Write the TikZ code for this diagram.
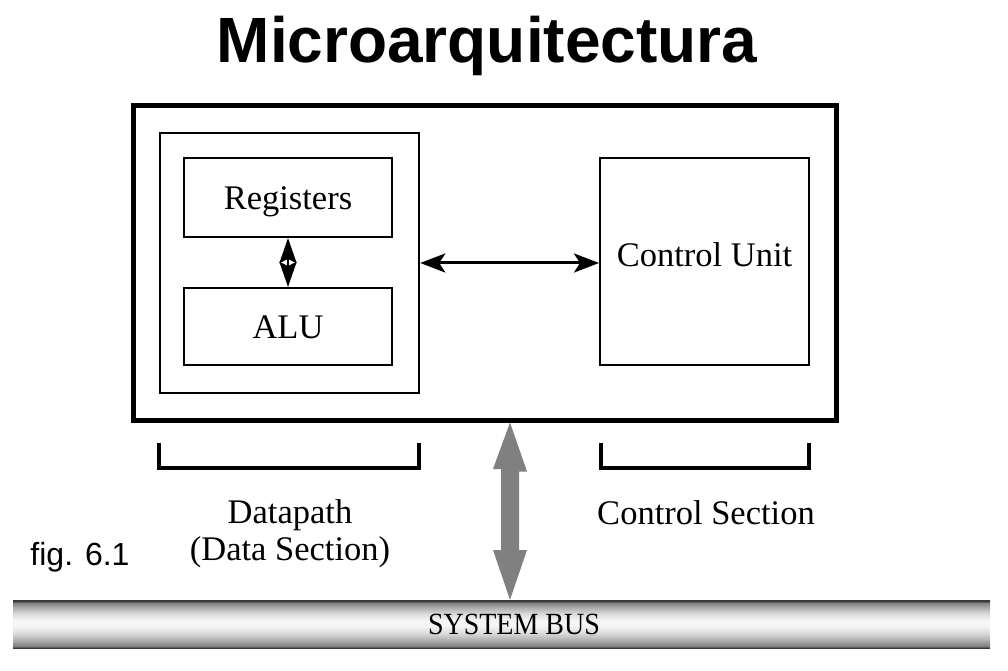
\documentclass[tikz,border=0pt]{standalone}
\usepackage{fontspec}
\setmainfont{Liberation Serif}
\newfontfamily\arialfont{Liberation Sans}
\usetikzlibrary{arrows.meta}
\definecolor{bA}{gray}{0.22}
\definecolor{bB}{gray}{0.50}
\definecolor{bC}{gray}{0.68}
\definecolor{bD}{gray}{0.85}
\definecolor{bE}{gray}{0.96}
\definecolor{arrgray}{gray}{0.50}
\pgfdeclareverticalshading{busshade}{100bp}{color(0bp)=(bA); color(25bp)=(bA); color(27bp)=(bB); color(33bp)=(bC); color(40bp)=(bD); color(48bp)=(bE); color(54bp)=(bE); color(61bp)=(bD); color(67bp)=(bC); color(72bp)=(bB); color(74bp)=(bA); color(100bp)=(bA)}
\tikzset{
  box/.style={draw, line width=2pt, inner sep=0pt},
  lbl/.style={font=\fontsize{34.5}{38}\selectfont},
  bracket/.style={line width=4pt},
  blackarrow/.style={line width=3pt, {Stealth[length=25pt,width=19pt,inset=6pt]}-{Stealth[length=25pt,width=19pt,inset=6pt]}},
}
\begin{document}
\begin{tikzpicture}[x=1pt,y=1pt]
\useasboundingbox (0,0) rectangle (1008,670);
% title
\node[anchor=base, font=\arialfont\bfseries\fontsize{64}{68}\selectfont] (title) at (487,607) {Microarquitectura};
% outer box
\node[box, line width=5pt, minimum width=703pt, minimum height=314pt] (outer) at (484.5,407) {};
% datapath box
\node[box, line width=2.5pt, minimum width=259pt, minimum height=260pt] (dp) at (289.5,407) {};
\node[box, minimum width=208pt, minimum height=79pt] (regs) at (288,472.5) {};
\node[box, minimum width=208pt, minimum height=77pt] (alu) at (288,343.5) {};
\node[box, minimum width=209pt, minimum height=207pt] (cu) at (704.5,408.5) {};
\node[lbl, anchor=base] (regst) at ([yshift=-12pt]regs.center) {Registers};
\node[lbl, anchor=base] (alut) at ([yshift=-12pt]alu.center) {ALU};
\node[lbl, anchor=base] (cut) at ([yshift=-5pt]cu.center) {Control Unit};
% arrows
\draw[line width=2.5pt, {Stealth[length=25pt,width=17pt,inset=4pt]}-{Stealth[length=25pt,width=17pt,inset=4pt]}] (regs.south) -- (alu.north);
\draw[blackarrow] (dp.east) -- (dp.east -| cu.west);
% bus
\node[minimum width=977pt, minimum height=48pt, inner sep=0pt, shading=busshade] (bus) at (501.5,46) {};
\node[font=\fontsize{28}{30}\selectfont, yscale=1.1] (bustext) at (514,46) {SYSTEM BUS};
% gray double arrow
\coordinate (gt) at (outer.south -| 510,0);
\coordinate (gb) at (bus.north -| 510,0);
\fill[arrgray] (gt) -- ++(17,-49) -- ++(-8,0) -- (519,120) -- (527,120) -- (gb) -- (493,120) -- (501,120) -- (501,201) -- (493,201) -- cycle;
% brackets
\draw[bracket] (159,227) -- (159,202) -- (419,202) -- (419,227);
\draw[bracket] (601,227) -- (601,202) -- (809,202) -- (809,227);
\node[lbl, anchor=base] (dptext) at (290,147) {Datapath};
\node[lbl, anchor=base] (dstext) at (290,110) {(Data Section)};
\node[lbl, anchor=base] (cstext) at (706,146) {Control Section};
\node[font=\arialfont\fontsize{32}{34}\selectfont] (fig) at (80,113) {fig. 6.1};
\end{tikzpicture}
\end{document}
